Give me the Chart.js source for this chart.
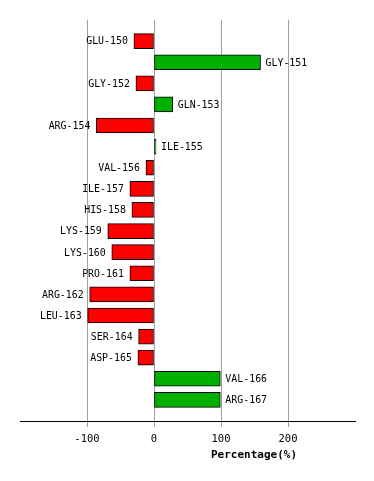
<!DOCTYPE html>
<html lang="en">
<head>
  <meta charset="UTF-8">
  <title>Percentage by residue</title>
  <script src="https://cdn.jsdelivr.net/npm/chart.js"></script>
  <style>
    body { margin: 0; background: #fff; }
    #wrap { width: 374px; height: 481px; }
  </style>
</head>
<body>
  <div id="wrap"><canvas id="barChart"></canvas></div>

  <script>
    // residues, top to bottom
    const residues = ['GLU-150', 'GLY-151', 'GLY-152', 'GLN-153', 'ARG-154', 'ILE-155',
      'VAL-156', 'ILE-157', 'HIS-158', 'LYS-159', 'LYS-160', 'PRO-161',
      'ARG-162', 'LEU-163', 'SER-164', 'ASP-165', 'VAL-166', 'ARG-167'];
    const percentages = [-30, 159, -27, 28, -86, 3,
      -12, -36, -33, -69, -63, -36,
      -96, -99, -23, -24, 99, 99];
    const tickValues = [-100, 0, 100, 200];

    // empty slots at both ends so the bars sit one step in from the frame
    const labels = [''].concat(residues, ['']);
    const values = [null].concat(percentages, [null]);

    const monoFont = '"DejaVu Sans Mono", monospace';

    // residue names next to the end of each bar (narrow mono look)
    const barLabels = {
      id: 'barLabels',
      afterDatasetsDraw(chart) {
        const ctx = chart.ctx;
        const meta = chart.getDatasetMeta(0);
        const sx = 0.9;
        ctx.save();
        ctx.font = '11px ' + monoFont;
        ctx.fillStyle = '#000';
        ctx.textBaseline = 'middle';
        meta.data.forEach((bar, i) => {
          const v = values[i];
          if (v === null) return;
          const x = v < 0 ? bar.x - 6 : bar.x + 5;
          ctx.save();
          ctx.translate(x, bar.y + 0.5);
          ctx.scale(sx, 1);
          ctx.textAlign = v < 0 ? 'right' : 'left';
          ctx.fillText(labels[i], 0, 0);
          ctx.restore();
        });
        ctx.restore();
      }
    };

    // axis title sits right of centre in the original
    const axisTitle = {
      id: 'axisTitle',
      afterDraw(chart) {
        const ctx = chart.ctx;
        ctx.save();
        ctx.font = 'bold 11px ' + monoFont;
        ctx.fillStyle = '#000';
        ctx.textAlign = 'center';
        ctx.textBaseline = 'middle';
        ctx.fillText('Percentage(%)', 254, 455);
        ctx.restore();
      }
    };

    const ctx = document.getElementById('barChart').getContext('2d');
    new Chart(ctx, {
      type: 'bar',
      data: {
        labels: labels,
        datasets: [{
          data: values,
          backgroundColor: values.map(v => v < 0 ? '#ff0000' : '#00b000'),
          borderColor: '#000',
          borderWidth: 1,
          borderSkipped: false,
          barThickness: 15
        }]
      },
      options: {
        indexAxis: 'y',
        responsive: true,
        maintainAspectRatio: false,
        animation: false,
        layout: { padding: { left: 20, right: 19, top: 20, bottom: 0 } },
        plugins: {
          legend: { display: false },
          tooltip: { enabled: false }
        },
        scales: {
          y: {
            display: false,
            offset: false
          },
          x: {
            min: -200,
            max: 300,
            afterBuildTicks(scale) {
              scale.ticks = [-200].concat(tickValues, [300]).map(v => ({ value: v }));
            },
            afterFit(scale) { scale.height = 60; },
            border: { display: true, color: '#000', width: 1 },
            grid: {
              color: c => tickValues.includes(c.tick && c.tick.value) ? '#a0a0a0' : 'rgba(0,0,0,0)',
              lineWidth: 1,
              tickLength: 6,
              drawOnChartArea: true
            },
            ticks: {
              color: '#000',
              font: { family: monoFont, size: 10.5 },
              padding: 6,
              maxRotation: 0,
              autoSkip: false,
              callback: v => tickValues.includes(v) ? String(v) : ''
            }
          }
        }
      },
      plugins: [barLabels, axisTitle]
    });
  </script>
</body>
</html>
